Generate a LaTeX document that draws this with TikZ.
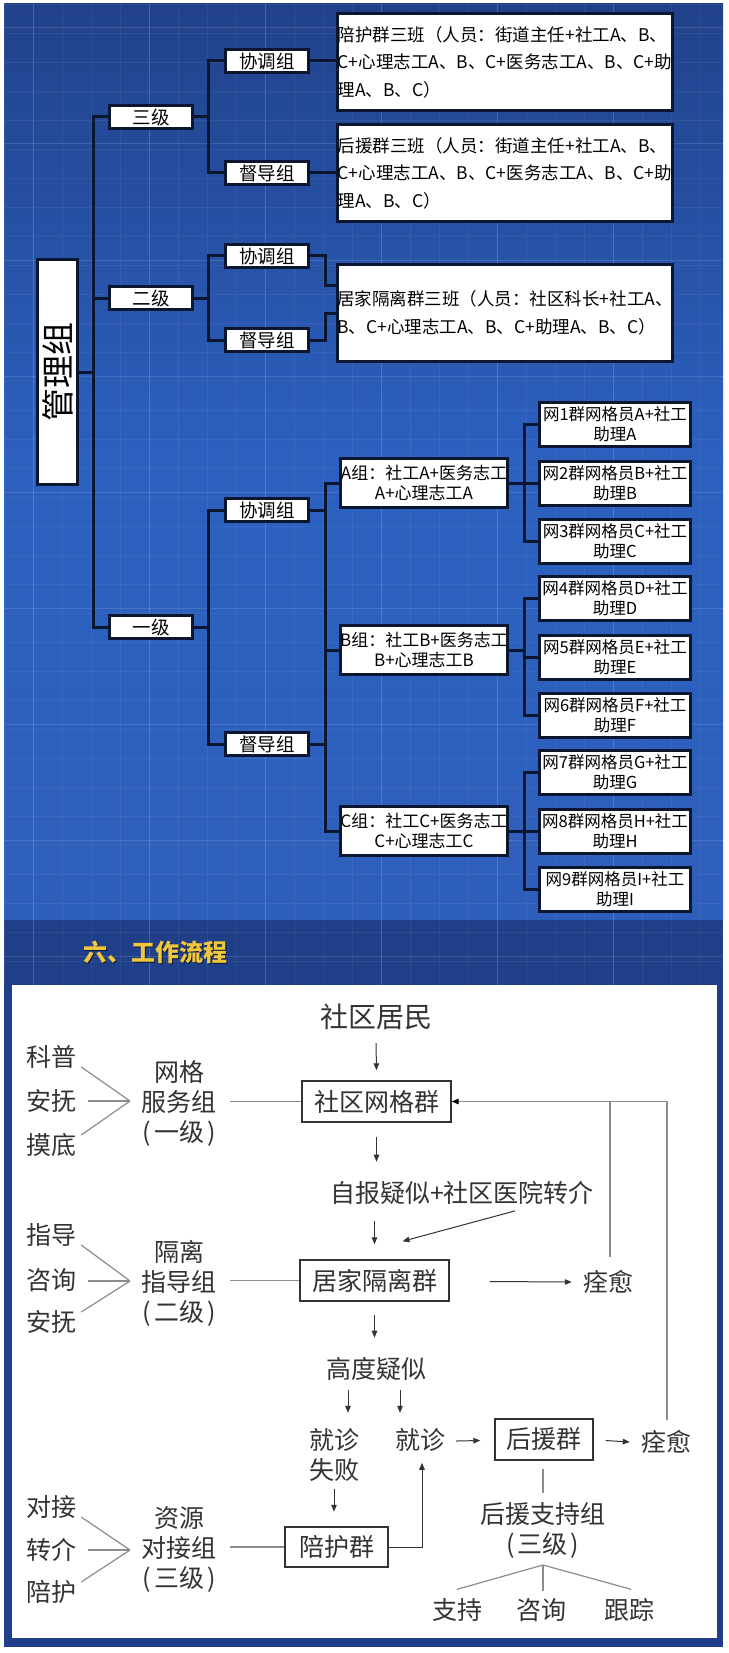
\documentclass[tikz,border=0pt]{standalone}
\usepackage{fontspec}
\setmainfont{Noto Sans CJK SC}
\usetikzlibrary{arrows.meta,calc}
\definecolor{navy}{HTML}{0B1631}
\definecolor{bgtop}{HTML}{21428A}
\definecolor{bgmid}{HTML}{2C60BF}
\definecolor{bglow}{HTML}{2D5FBA}
\definecolor{bgband}{HTML}{1F4088}
\definecolor{ttl}{HTML}{EFC63C}
\definecolor{ink}{HTML}{333333}
\definecolor{gline}{HTML}{8C8C8C}
\begin{document}
\begin{tikzpicture}[x=1pt,y=-1pt,
  tbox/.style={draw=navy,line width=3pt,fill=white,text=black,inner sep=0pt},
  lvbox/.style={tbox,minimum width=83pt,minimum height=23pt,font=\fontsize{18.5}{22}\selectfont},
  bigbox/.style={tbox,minimum width=329pt,minimum height=97pt,font=\fontsize{17.5}{27.5}\selectfont,align=left},
  grpbox/.style={tbox,minimum width=167pt,minimum height=49pt,font=\fontsize{17}{20.5}\selectfont,align=center},
  netbox/.style={tbox,minimum width=151pt,minimum height=44pt,font=\fontsize{16.5}{19.5}\selectfont,align=center},
  tl/.style={draw=navy,line width=3pt},
  flowbox/.style={draw=ink,line width=1.4pt,fill=white,text=ink,font=\fontsize{25}{30}\selectfont,inner sep=0pt},
  ftxt/.style={text=ink,font=\fontsize{25}{30}\selectfont,inner sep=1pt,align=center},
  arr/.style={draw=ink,line width=1pt,-{Triangle[length=7pt,width=5.5pt]}},
  gl/.style={draw=gline,line width=1.2pt},
  gridminor/.style={draw=white,opacity=0.06,line width=0.8pt},
  gridmajor/.style={draw=white,opacity=0.13,line width=1pt}
]
\useasboundingbox (0,0) rectangle (728,1653);
% ---------- background ----------
\fill[white] (0,0) rectangle (728,1653);
\shade[top color=bgtop,bottom color=bgmid] (4,4) rectangle (723,460);
\shade[top color=bgmid,bottom color=bglow] (4,459) rectangle (723,920);
\fill[bgband] (4,920) rectangle (723,1647);
\begin{scope}
\clip (4,4) rectangle (723,985);
\foreach \x in {4,33,...,723} {\draw[gridminor] (\x,4) -- (\x,985);}
\foreach \y in {4,33,...,985} {\draw[gridminor] (4,\y) -- (723,\y);}
\foreach \x in {33,149,...,723} {\draw[gridmajor] (\x,4) -- (\x,985);}
\foreach \y in {28,144,...,985} {\draw[gridmajor] (4,\y) -- (723,\y);}
\end{scope}
% ---------- top organisation chart ----------
\coordinate (trk) at (93,0);
\coordinate (v2) at (208,0);
\coordinate (v3) at (325,0);
\coordinate (v4) at (524,0);
\node[tbox,rotate=90,minimum width=225pt,minimum height=40pt,font=\fontsize{33}{33}\selectfont] (glz) at (57.5,372) {管理组};
\node[lvbox] (s3) at (151,117) {三级};
\node[lvbox] (s2) at (151,298) {二级};
\node[lvbox] (s1) at (151,627) {一级};
\node[lvbox] (x3) at (267,61) {协调组};
\node[lvbox] (d3) at (267,173) {督导组};
\node[lvbox] (x2) at (267,256) {协调组};
\node[lvbox] (d2) at (267,340) {督导组};
\node[lvbox] (x1) at (267,510) {协调组};
\node[lvbox] (d1) at (267,744) {督导组};
\node[bigbox] (b1) at (505,62) {陪护群三班（人员：街道主任+社工A、B、\\C+心理志工A、B、C+医务志工A、B、C+助\\理A、B、C）};
\node[bigbox] (b2) at (505,173) {后援群三班（人员：街道主任+社工A、B、\\C+心理志工A、B、C+医务志工A、B、C+助\\理A、B、C）};
\node[bigbox] (b3) at (505,313) {居家隔离群三班（人员：社区科长+社工A、\\B、C+心理志工A、B、C+助理A、B、C）};
\node[grpbox] (ga) at (424,483) {A组：社工A+医务志工\\A+心理志工A};
\node[grpbox] (gb) at (424,650) {B组：社工B+医务志工\\B+心理志工B};
\node[grpbox] (gc) at (424,831) {C组：社工C+医务志工\\C+心理志工C};
\node[netbox] (n1) at (615,424) {网1群网格员A+社工\\助理A};
\node[netbox] (n2) at (615,483) {网2群网格员B+社工\\助理B};
\node[netbox] (n3) at (615,541) {网3群网格员C+社工\\助理C};
\node[netbox] (n4) at (615,598) {网4群网格员D+社工\\助理D};
\node[netbox] (n5) at (615,657) {网5群网格员E+社工\\助理E};
\node[netbox] (n6) at (615,715) {网6群网格员F+社工\\助理F};
\node[netbox] (n7) at (615,772) {网7群网格员G+社工\\助理G};
\node[netbox] (n8) at (615,831) {网8群网格员H+社工\\助理H};
\node[netbox] (n9) at (615,889) {网9群网格员I+社工\\助理I};
% connectors
\draw[tl] (glz.south) -- (glz.south -| trk);
\draw[tl] (s3.west) -| (s1.west -| trk) -- (s1.west);
\draw[tl] (s2.west -| trk) -- (s2.west);
\draw[tl] (x3.west) -| (d3.west -| v2) -- (d3.west);
\draw[tl] (s3.east) -- (s3.east -| v2);
\draw[tl] (x2.west) -| (d2.west -| v2) -- (d2.west);
\draw[tl] (s2.east) -- (s2.east -| v2);
\draw[tl] (x1.west) -| (d1.west -| v2) -- (d1.west);
\draw[tl] (s1.east) -- (s1.east -| v2);
\draw[tl] (x3.east) -- (b1.west |- x3.east);
\draw[tl] (d3.east) -- (b2.west |- d3.east);
\draw[tl] (x2.east) -| ($(v3 |- b3.west)+(0,-28)$) -- ($(b3.west)+(0,-28)$);
\draw[tl] (d2.east) -| (v3 |- b3.west) -- (b3.west);
\draw[tl] (ga.west) -| (gc.west -| v3) -- (gc.west);
\draw[tl] (gb.west -| v3) -- (gb.west);
\draw[tl] (x1.east) -- (x1.east -| v3);
\draw[tl] (d1.east) -- (d1.east -| v3);
\draw[tl] (n1.west) -| (n3.west -| v4) -- (n3.west);
\draw[tl] (n2.west -| v4) -- (n2.west);
\draw[tl] (ga.east) -- (ga.east -| v4);
\draw[tl] (n4.west) -| (n6.west -| v4) -- (n6.west);
\draw[tl] (n5.west -| v4) -- (n5.west);
\draw[tl] (gb.east) -- (gb.east -| v4);
\draw[tl] (n7.west) -| (n9.west -| v4) -- (n9.west);
\draw[tl] (n8.west -| v4) -- (n8.west);
\draw[tl] (gc.east) -- (gc.east -| v4);
% ---------- title ----------
\node[font=\fontsize{24}{24}\selectfont\bfseries,text=black,opacity=0.6] (titlesh) at (156.5,953.5) {六、工作流程};
\node[font=\fontsize{24}{24}\selectfont\bfseries,text=ttl] (title) at (155,952) {六、工作流程};
% ---------- flow chart ----------
\fill[white] (12,985) rectangle (717,1638);
\node[ftxt,font=\fontsize{28}{30}\selectfont] (jm) at (376,1017) {社区居民};
\node[flowbox,minimum width=149pt,minimum height=41pt] (wgq) at (376.5,1101.5) {社区网格群};
\node[ftxt] (zb) at (462,1193) {自报疑似+社区医院转介};
\node[flowbox,minimum width=149pt,minimum height=41pt] (jx) at (374.5,1280.5) {居家隔离群};
\node[ftxt] (qy1) at (608,1282) {痊愈};
\node[ftxt] (gd) at (376,1369) {高度疑似};
\node[ftxt] (jzsb) at (334,1455) {就诊\\失败};
\node[ftxt] (jz) at (420,1440) {就诊};
\node[flowbox,minimum width=98pt,minimum height=41pt] (hyq) at (544,1439.5) {后援群};
\node[ftxt] (qy2) at (666,1442) {痊愈};
\node[flowbox,minimum width=103pt,minimum height=40pt] (phq) at (336.5,1547) {陪护群};
\node[ftxt] (hz) at (543,1530) {后援支持组\\(\kern3pt 三级\kern3pt)};
\node[ftxt] (zc) at (457,1610) {支持};
\node[ftxt] (zx2) at (541,1610) {咨询};
\node[ftxt] (gz) at (629,1610) {跟踪};
% left groups
\node[ftxt] (kp) at (51,1057) {科普};
\node[ftxt] (af) at (51,1101) {安抚};
\node[ftxt] (md) at (51,1145) {摸底};
\node[ftxt] (wg) at (179,1103) {网格\\服务组\\(\kern3pt 一级\kern3pt)};
\node[ftxt] (zd) at (51,1235) {指导};
\node[ftxt] (zx) at (51,1280) {咨询};
\node[ftxt] (af2) at (51,1322) {安抚};
\node[ftxt] (gl2) at (179,1283) {隔离\\指导组\\(\kern3pt 二级\kern3pt)};
\node[ftxt] (dj) at (51,1507) {对接};
\node[ftxt] (zj) at (51,1550) {转介};
\node[ftxt] (ph) at (51,1592) {陪护};
\node[ftxt] (zy) at (179,1549) {资源\\对接组\\(\kern3pt 三级\kern3pt)};
\coordinate (c1) at (130,1101);
\coordinate (c2) at (130,1281);
\coordinate (c3) at (130,1550);
\coordinate (tp) at (543,1565);
% chevrons
\draw[gl] ($(kp.east)+(4,10)$) -- (c1);
\draw[gl] ($(af.east)+(11,0)$) -- (c1);
\draw[gl] ($(md.east)+(4,-10)$) -- (c1);
\draw[gl] ($(zd.east)+(4,10)$) -- (c2);
\draw[gl] ($(zx.east)+(11,1)$) -- (c2);
\draw[gl] ($(af2.east)+(4,-10)$) -- (c2);
\draw[gl] ($(dj.east)+(4,10)$) -- (c3);
\draw[gl] ($(zj.east)+(11,0)$) -- (c3);
\draw[gl] ($(ph.east)+(4,-10)$) -- (c3);
% group to box links
\draw[gl] ($(wg.east |- wgq.west)+(12,0)$) -- (wgq.west);
\draw[gl] ($(gl2.east |- jx.west)+(12,0)$) -- (jx.west);
\draw[gl] ($(zy.east |- phq.west)+(12,0)$) -- (phq.west);
% main arrows
\draw[arr] ([yshift=-12pt]jm.south) -- ([yshift=10pt]wgq.north);
\draw[arr] ([yshift=-14pt]wgq.south) -- ++(0,25);
\draw[arr] ($(jx.north)+(0,-38)$) -- ($(jx.north)+(0,-15)$);
\draw[arr] ($(zb.south east)+(-80,5)$) -- ($(jx.north)+(28,-18)$);
\draw[arr] ($(jx.east)+(40,1)$) -- ($(qy1.west)+(-10,0)$);
\draw[arr] ([yshift=-13pt]jx.south) -- ++(0,23);
\draw[arr] ($(gd.south)+(-28,8)$) -- ++(0,23);
\draw[arr] ($(gd.south)+(24,8)$) -- ++(0,23);
\draw[arr] ($(jz.east)+(10,1)$) -- ($(hyq.west)+(-14,1)$);
\draw[arr] ($(hyq.east)+(12,1)$) -- ($(qy2.west)+(-10,0)$);
\draw[arr] ($(jzsb.south)+(0,6)$) -- ++(0,23);
\draw[arr] (phq.east) -| ($(jz.south)+(2,10)$);
% feedback lines
\draw[gl] ($(qy1.north)+(2,-12)$) -- ($(qy1.north |- wgq.east)+(2,0)$);
\draw[gl,-{Triangle[length=7pt,width=5.5pt,color=black]}] ($(qy2.north)+(1,-9)$) -- ($(qy2.north |- wgq.east)+(1,0)$) -- (wgq.east);
% support group
\draw[gl] ($(hyq.south)+(-1,8)$) -- ++(0,24);
\draw[gl] (tp) -- ($(zc.north)+(0,-8)$);
\draw[gl] (tp) -- ($(zx2.north)+(2,-6)$);
\draw[gl] (tp) -- ($(gz.north)+(2,-8)$);
\end{tikzpicture}
\end{document}
